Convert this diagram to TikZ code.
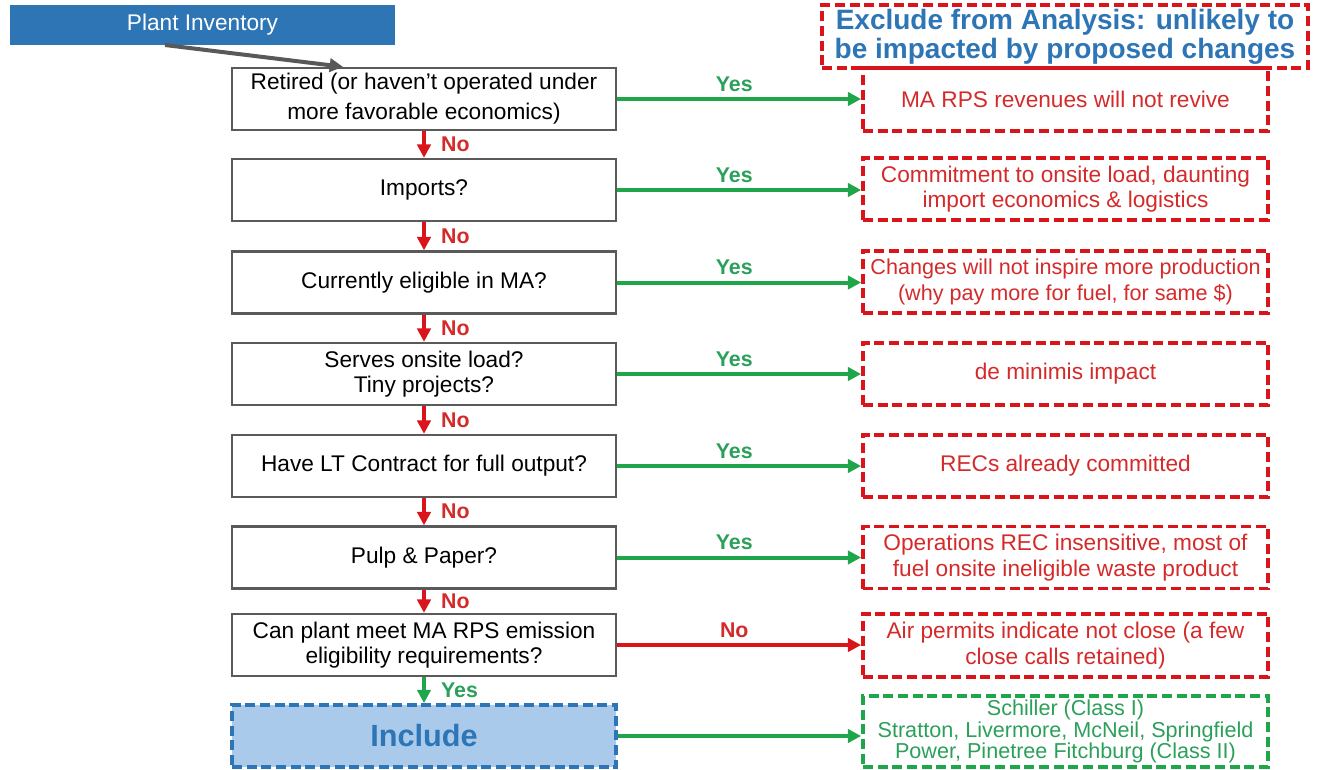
\documentclass[tikz,border=0pt]{standalone}
\usepackage{fontspec}
\setmainfont{Liberation Sans}
\usetikzlibrary{arrows.meta}
\definecolor{bxgray}{HTML}{5A5A5A}
\definecolor{rd}{HTML}{D9141B}
\definecolor{rdtext}{HTML}{D42A2A}
\definecolor{gn}{HTML}{1FA64A}
\definecolor{gntext}{HTML}{2BA05A}
\definecolor{bl}{HTML}{2E75B6}
\definecolor{blfill}{HTML}{A9CAEA}
\definecolor{arrgray}{HTML}{595959}
\begin{document}
\begin{tikzpicture}[x=0.75pt,y=-0.75pt,
  q/.style={draw=bxgray, line width=1.8pt, fill=white, minimum width=384*0.75pt, minimum height=62*0.75pt, inner sep=0pt, align=center, font=\fontsize{17}{19}\selectfont},
  dsh/.style={dash pattern=on 7.5pt off 3.5pt, line width=2.8pt},
  r/.style={draw=rd, dsh, minimum width=405*0.75pt, minimum height=62*0.75pt, inner sep=0pt, align=center, text=rdtext, font=\fontsize{17}{19}\selectfont},
  ya/.style={draw=gn, line width=3pt, -{Triangle[length=10pt,width=10pt]}},
  na/.style={draw=rd, line width=3pt, -{Triangle[length=10pt,width=10pt]}},
  yl/.style={text=gntext, font=\bfseries\fontsize{16}{18}\selectfont},
  nl/.style={text=rdtext, font=\bfseries\fontsize{16}{18}\selectfont}
]
\useasboundingbox (0,0) rectangle (1317,769);

% header
\node[fill=bl, minimum width=385*0.75pt, minimum height=40*0.75pt, inner sep=0pt, text=white, font=\fontsize{17}{19}\selectfont] (inv) at (202.5,25) {Plant Inventory};
\node[draw=rd, dsh, minimum width=486*0.75pt, minimum height=63*0.75pt, inner sep=0pt, align=center, text=bl, font=\bfseries\fontsize{21}{21.5}\selectfont] (hdr) at (1065,36.5) {Exclude from Analysis: unlikely to\\be impacted by proposed changes};

% left decision boxes
\node[q, font=\fontsize{17}{22.5}\selectfont] (q1) at (424,99) {Retired (or haven't operated under\\more favorable economics)};
\node[q] (q2) at (424,190) {Imports?};
\node[q] (q3) at (424,282.5) {Currently eligible in MA?};
\node[q] (q4) at (424,374) {Serves onsite load?\\Tiny projects?};
\node[q] (q5) at (424,466) {Have LT Contract for full output?};
\node[q] (q6) at (424,557.5) {Pulp \& Paper?};
\node[q] (q7) at (424,645) {Can plant meet MA RPS emission\\eligibility requirements?};
\node[q, draw=bl, fill=blfill, dsh, text=bl, font=\bfseries\fontsize{23}{26}\selectfont] (inc) at (424,736) {Include};

% right outcome boxes
\node[r, minimum height=63*0.75pt] (r1) at (1065.5,99.5) {MA RPS revenues will not revive};
\node[r] (r2) at (1065.5,189) {Commitment to onsite load, daunting\\import economics \& logistics};
\node[r, font=\fontsize{16.2}{19}\selectfont] (r3) at (1065.5,282) {Changes will not inspire more production\\(why pay more for fuel, for same \$)};
\node[r] (r4) at (1065.5,374) {de minimis impact};
\node[r] (r5) at (1065.5,466) {RECs already committed};
\node[r] (r6) at (1065.5,557.5) {Operations REC insensitive, most of\\fuel onsite ineligible waste product};
\node[r, minimum height=63*0.75pt] (r7) at (1065.5,645.5) {Air permits indicate not close (a few\\close calls retained)};
\node[r, draw=gn, text=gntext, minimum height=71*0.75pt, font=\fontsize{16.2}{16}\selectfont] (r8) at (1065.5,731.5) {Schiller (Class I)\\Stratton, Livermore, McNeil, Springfield\\Power, Pinetree Fitchburg (Class II)};

% inventory arrow
\coordinate (invout) at (165,45);
\draw[draw=arrgray, line width=3pt, -{Triangle[length=10pt,width=10pt]}] (invout) -- (q1.north -| 343,0);

% horizontal arrows
\draw[ya] (q1.east) -- (q1.east -| r1.west) node[yl, pos=0.48, above=1pt] {Yes};
\draw[ya] (q2.east) -- (q2.east -| r2.west) node[yl, pos=0.48, above=1pt] {Yes};
\draw[ya] (q3.east) -- (q3.east -| r3.west) node[yl, pos=0.48, above=1pt] {Yes};
\draw[ya] (q4.east) -- (q4.east -| r4.west) node[yl, pos=0.48, above=1pt] {Yes};
\draw[ya] (q5.east) -- (q5.east -| r5.west) node[yl, pos=0.48, above=1pt] {Yes};
\draw[ya] (q6.east) -- (q6.east -| r6.west) node[yl, pos=0.48, above=1pt] {Yes};
\draw[na] (q7.east) -- (q7.east -| r7.west) node[nl, pos=0.48, above=1pt] {No};
\draw[ya] (inc.east) -- (inc.east -| r8.west);

% vertical arrows
\draw[na] (q1.south) -- (q2.north) node[nl, midway, right=8pt] {No};
\draw[na] (q2.south) -- (q3.north) node[nl, midway, right=8pt] {No};
\draw[na] (q3.south) -- (q4.north) node[nl, midway, right=8pt] {No};
\draw[na] (q4.south) -- (q5.north) node[nl, midway, right=8pt] {No};
\draw[na] (q5.south) -- (q6.north) node[nl, midway, right=8pt] {No};
\draw[na] (q6.south) -- (q7.north) node[nl, midway, right=8pt] {No};
\draw[ya] (q7.south) -- (inc.north) node[yl, midway, right=8pt] {Yes};
\end{tikzpicture}
\end{document}
